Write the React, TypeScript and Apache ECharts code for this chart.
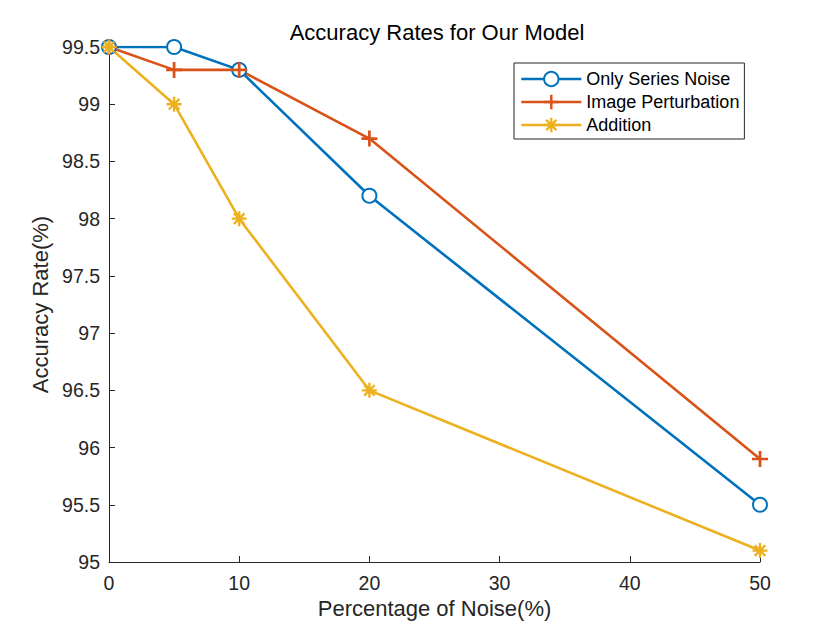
import React, { useEffect, useRef } from "react";
import * as echarts from "echarts";

const xValues = [0, 5, 10, 20, 50];
const seriesNames = ["Only Series Noise", "Image Perturbation", "Addition"];
const onlySeriesNoise = [99.5, 99.5, 99.3, 98.2, 95.5];
const imagePerturbation = [99.5, 99.3, 99.3, 98.7, 95.9];
const addition = [99.5, 99.0, 98.0, 96.5, 95.1];
const colors = ["#0072BD", "#D95319", "#EDB120"];

const PLUS =
  "path://M-1.2,-7 L1.2,-7 L1.2,-1.2 L7,-1.2 L7,1.2 L1.2,1.2 L1.2,7 L-1.2,7 L-1.2,1.2 L-7,1.2 L-7,-1.2 L-1.2,-1.2 Z";
const STAR =
  "path://M-7,-1.1 L7,-1.1 L7,1.1 L-7,1.1 Z M-1.1,-7 L1.1,-7 L1.1,7 L-1.1,7 Z " +
  "M-5.73,-4.17 L-4.17,-5.73 L5.73,4.17 L4.17,5.73 Z " +
  "M4.17,-5.73 L5.73,-4.17 L-4.17,5.73 L-5.73,4.17 Z";

const FONT = "Liberation Sans";

export default function App() {
  const ref = useRef<HTMLDivElement>(null);
  useEffect(() => {
    if (!ref.current) return;
    const chart = echarts.init(ref.current, undefined, { renderer: "svg" });
    const mk = (name: string, data: number[], color: string, symbol: string, size: number, empty: boolean) => ({
      name,
      type: "line",
      data: xValues.map((x, i) => [x, data[i]]),
      symbol,
      symbolSize: size,
      showAllSymbol: true,
      lineStyle: { color, width: 2.6 },
      itemStyle: empty
        ? { color, borderColor: color, borderWidth: 2.6 }
        : { color, borderColor: color, borderWidth: 0 },
      emphasis: { disabled: true },
      z: 3,
    });
    chart.setOption({
      animation: false,
      backgroundColor: "#ffffff",
      title: {
        text: "Accuracy Rates for Our Model",
        left: 432,
        top: 16,
        textAlign: "center",
        textStyle: { fontFamily: FONT, fontSize: 22, fontWeight: "normal", color: "#000000" },
      },
      legend: {
        orient: "vertical",
        left: 514,
        top: 63,
        data: seriesNames,
        itemWidth: 60,
        itemHeight: 18,
        itemGap: 5,
        padding: [7, 5, 5, 6],
        borderColor: "#262626",
        borderWidth: 1,
        backgroundColor: "#ffffff",
        lineStyle: { width: 2.6 },
        textStyle: { fontFamily: FONT, fontSize: 18, color: "#000000" },
        selectedMode: false,
      },
      grid: { left: 109, right: 80, top: 47, bottom: 68, containLabel: false },
      xAxis: {
        type: "value",
        min: 0,
        max: 50,
        interval: 10,
        name: "Percentage of Noise(%)",
        nameLocation: "middle",
        nameGap: 35,
        nameTextStyle: { fontFamily: FONT, fontSize: 22, color: "#262626" },
        axisLine: { show: true, lineStyle: { color: "#262626", width: 1 } },
        axisTick: { show: true, inside: true, length: 6, lineStyle: { color: "#262626" } },
        axisLabel: { fontFamily: FONT, fontSize: 19.5, color: "#262626", margin: 11 },
        splitLine: { show: false },
      },
      yAxis: {
        type: "value",
        min: 95,
        max: 99.5,
        interval: 0.5,
        name: "Accuracy Rate(%)",
        nameLocation: "middle",
        nameGap: 49,
        nameTextStyle: { fontFamily: FONT, fontSize: 22, color: "#262626" },
        axisLine: { show: true, lineStyle: { color: "#262626", width: 1 } },
        axisTick: { show: true, inside: true, length: 6, lineStyle: { color: "#262626" } },
        axisLabel: { fontFamily: FONT, fontSize: 19.5, color: "#262626", margin: 9 },
        splitLine: { show: false },
      },
      series: [
        mk(seriesNames[0], onlySeriesNoise, colors[0], "emptyCircle", 14, true),
        mk(seriesNames[1], imagePerturbation, colors[1], PLUS, 16, false),
        mk(seriesNames[2], addition, colors[2], STAR, 15, false),
      ],
    });
    return () => chart.dispose();
  }, []);
  return (
    <div
      ref={ref}
      style={{ position: "fixed", left: 0, top: 0, width: 840, height: 630 }}
    />
  );
}
